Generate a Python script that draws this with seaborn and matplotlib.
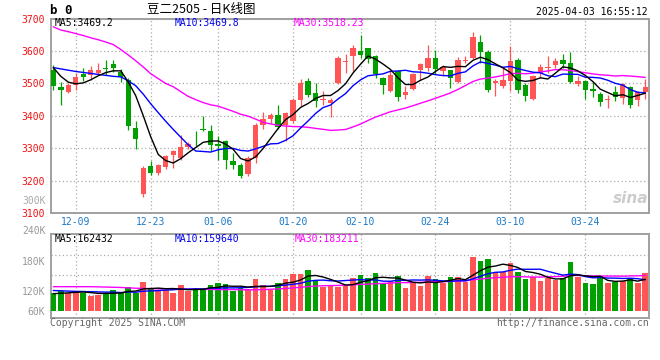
import numpy as np
import pandas as pd
import matplotlib
matplotlib.use("Agg")
import matplotlib.pyplot as plt
import seaborn as sns

# ---------------- data ----------------
holidays = ["2025-01-01", "2025-01-28", "2025-01-29", "2025-01-30",
            "2025-01-31", "2025-02-03", "2025-02-04"]
trade_days = pd.bdate_range("2024-12-04", "2025-04-03")
trade_days = trade_days[~trade_days.isin(pd.to_datetime(holidays))]
dates = trade_days.strftime("%m-%d").tolist()

x_labels = ["12-09", "12-23", "01-06", "01-20", "02-10", "02-24", "03-10", "03-24"]

opens = [3542, 3489, 3473, 3496, 3530, 3526, 3531, 3547, 3559, 3536,
         3510, 3362, 3160, 3246, 3222, 3242, 3279, 3270, 3303, 3329,
         3360, 3352, 3312, 3321, 3261, 3247, 3220, 3270, 3372, 3389,
         3403, 3372, 3385, 3448, 3507, 3470, 3450, 3441, 3500, 3567,
         3585, 3600, 3608, 3585, 3518, 3477, 3539, 3463, 3482, 3542,
         3548, 3578, 3539, 3542, 3506, 3570, 3578, 3629, 3598, 3500,
         3493, 3509, 3574, 3494, 3451, 3532, 3547, 3557, 3574, 3562,
         3499, 3508, 3483, 3467, 3448, 3473, 3456, 3488, 3448, 3473]
highs = [3557, 3503, 3500, 3531, 3549, 3553, 3564, 3571, 3573, 3546,
         3518, 3385, 3245, 3262, 3252, 3279, 3295, 3342, 3318, 3352,
         3400, 3372, 3337, 3326, 3285, 3254, 3276, 3378, 3412, 3410,
         3435, 3413, 3455, 3513, 3516, 3501, 3476, 3455, 3584, 3590,
         3618, 3649, 3610, 3588, 3521, 3542, 3543, 3492, 3532, 3562,
         3618, 3602, 3557, 3543, 3583, 3586, 3659, 3651, 3603, 3515,
         3547, 3616, 3580, 3501, 3526, 3559, 3586, 3580, 3590, 3596,
         3522, 3511, 3504, 3473, 3465, 3492, 3501, 3491, 3478, 3513]
lows = [3481, 3435, 3470, 3480, 3507, 3512, 3530, 3526, 3536, 3505,
        3355, 3299, 3150, 3216, 3218, 3237, 3240, 3265, 3298, 3307,
        3352, 3290, 3265, 3236, 3237, 3207, 3215, 3255, 3358, 3378,
        3358, 3322, 3378, 3430, 3457, 3428, 3432, 3397, 3499, 3532,
        3540, 3579, 3562, 3516, 3467, 3474, 3446, 3453, 3480, 3512,
        3538, 3528, 3523, 3486, 3501, 3562, 3576, 3562, 3473, 3460,
        3486, 3477, 3470, 3445, 3448, 3516, 3532, 3547, 3547, 3501,
        3492, 3453, 3458, 3430, 3423, 3445, 3437, 3424, 3430, 3451]
closes = [3493, 3479, 3496, 3521, 3520, 3541, 3541, 3545, 3548, 3520,
          3370, 3327, 3238, 3222, 3247, 3275, 3290, 3305, 3313, 3327,
          3356, 3309, 3308, 3263, 3248, 3213, 3271, 3372, 3391, 3404,
          3367, 3408, 3450, 3501, 3465, 3445, 3453, 3450, 3578, 3570,
          3611, 3588, 3577, 3530, 3494, 3527, 3459, 3474, 3530, 3559,
          3578, 3544, 3550, 3518, 3574, 3573, 3642, 3598, 3481, 3509,
          3511, 3570, 3481, 3462, 3522, 3552, 3552, 3570, 3560, 3505,
          3508, 3481, 3476, 3442, 3453, 3457, 3498, 3434, 3473, 3488]
volumes = [93000, 102000, 93000, 102000, 93000, 77000, 81000, 93000, 107000, 96000,
           122000, 89000, 148000, 117000, 107000, 107000, 93000, 133000, 102000, 112000,
           112000, 133000, 145000, 138000, 102000, 115000, 110000, 163000, 133000, 107000,
           145000, 163000, 189000, 189000, 210000, 158000, 124000, 127000, 120000, 133000,
           169000, 184000, 169000, 196000, 145000, 153000, 179000, 117000, 141000, 127000,
           179000, 163000, 141000, 174000, 172000, 150000, 279000, 256000, 267000, 201000,
           198000, 248000, 201000, 165000, 174000, 153000, 169000, 158000, 170000, 251000,
           176000, 145000, 138000, 179000, 145000, 150000, 153000, 170000, 145000, 194000]

# first values of the moving-average lines (their history lies left of the chart)
ma5_head = [3549, 3522, 3504, 3499]
ma10_head = [3549, 3545, 3541, 3537, 3534, 3531, 3528, 3525, 3522]
ma30_head = [3675, 3665, 3660, 3654, 3648, 3641, 3635, 3628, 3620, 3605,
             3588, 3570, 3551, 3530, 3515, 3500, 3490, 3475, 3460, 3450,
             3441, 3434, 3430, 3422, 3414, 3405, 3399, 3390, 3380]
vma5_head = [88000, 90000, 92000, 95000]
vma10_head = [104000, 103000, 101000, 100000, 99000, 98000, 97000, 96000, 96000]
vma30_head = [124000, 124000, 124000, 124000, 124000, 124000, 123000, 122000, 121000, 120000,
              118000, 116000, 115000, 114000, 113000, 113000, 112000, 112000, 111000, 111000,
              110000, 110000, 109000, 109000, 109000, 108000, 108000, 108000, 109000]

price_ticks = [3100, 3200, 3300, 3400, 3500, 3600, 3700]

# ---------------- helpers ----------------
def moving_average(values, n, head):
    s = pd.Series(values, dtype=float).rolling(n).mean()
    s.iloc[:n - 1] = head
    return s.to_numpy()

sns.set_theme(style="white")
plt.rcParams["font.family"] = ["DejaVu Sans Mono", "DejaVu Sans"]

RED = "#ff5555"
GREEN = "#00a000"
GRID = "#aaaaaa"
SPINE = "#a0a0a0"
BLUE_TXT = "#1a78c8"

W, H = 660, 360
fig = plt.figure(figsize=(W / 100, H / 100), dpi=100)
fig.patch.set_facecolor("white")

def fx(px):
    return px / W

def fy(py):
    return 1 - py / H

L, R = 50.7, 649.0
ax = fig.add_axes([fx(L), fy(213), fx(R) - fx(L), fy(18.7) - fy(213)])
axv = fig.add_axes([fx(L), fy(318), fx(R) - fx(L), fy(234) - fy(318)])

o = np.array(opens, float)
h = np.array(highs, float)
lo = np.array(lows, float)
c = np.array(closes, float)
v = np.array(volumes, float)
x = np.arange(len(dates))
up = c >= o
cols = np.where(up, RED, GREEN)

df = pd.DataFrame({
    "x": x,
    "ma5": moving_average(closes, 5, ma5_head),
    "ma10": moving_average(closes, 10, ma10_head),
    "ma30": moving_average(closes, 30, ma30_head),
    "vma5": moving_average(volumes, 5, vma5_head),
    "vma10": moving_average(volumes, 10, vma10_head),
    "vma30": moving_average(volumes, 30, vma30_head),
})

# ---------------- price panel ----------------
ax.vlines(x, lo, h, colors=cols, linewidth=0.9, zorder=3)
body_low = np.minimum(o, c)
body_h = np.maximum(np.abs(c - o), 3)
ax.bar(x, body_h, bottom=body_low, width=0.72, color=cols, linewidth=0, zorder=4)

sns.lineplot(data=df, x="x", y="ma30", ax=ax, color="#ff00ff", linewidth=1.0, zorder=5)
sns.lineplot(data=df, x="x", y="ma10", ax=ax, color="#0000ff", linewidth=1.0, zorder=5)
sns.lineplot(data=df, x="x", y="ma5", ax=ax, color="#000000", linewidth=1.0, zorder=6)

ax.set_xlim(-0.35, 79.5)
ax.set_ylim(3100, 3700)
ax.set_yticks(price_ticks, [str(t) for t in price_ticks])
tick_pos = [dates.index(d) for d in x_labels]
ax.set_xticks(tick_pos, x_labels)
ax.tick_params(axis="y", length=0, pad=4, labelsize=7, labelcolor="#ee1111")
ax.tick_params(axis="x", length=0, pad=3, labelsize=7, labelcolor=BLUE_TXT)
ax.grid(True, color=GRID, linestyle=(0, (1, 2)), linewidth=0.9)
ax.set_xlabel("")
ax.set_ylabel("")
for sp in ax.spines.values():
    sp.set_color(SPINE)
    sp.set_linewidth(1.4)

# ---------------- volume panel ----------------
axv.bar(x, v, width=0.75, color=cols, linewidth=0, zorder=3)
sns.lineplot(data=df, x="x", y="vma30", ax=axv, color="#ff00ff", linewidth=1.0, zorder=5)
sns.lineplot(data=df, x="x", y="vma10", ax=axv, color="#0000ff", linewidth=1.0, zorder=5)
sns.lineplot(data=df, x="x", y="vma5", ax=axv, color="#000000", linewidth=1.0, zorder=6)

axv.set_xlim(-0.35, 79.5)
axv.set_ylim(-37700, 396000)
axv.set_xticks(tick_pos, [])
axv.set_yticks([0, 103000, 258000], ["60K", "120K", "180K"])
axv.set_yticks([81000, 184000, 288000], minor=True)
axv.tick_params(axis="both", which="both", length=0)
axv.tick_params(axis="y", pad=4, labelsize=7, labelcolor="#999999")
axv.grid(True, which="minor", axis="y", color=GRID, linestyle=(0, (1, 2)), linewidth=0.9)
axv.grid(True, which="major", axis="x", color=GRID, linestyle=(0, (1, 2)), linewidth=0.9)
axv.grid(False, which="major", axis="y")
axv.set_xlabel("")
axv.set_ylabel("")
for sp in axv.spines.values():
    sp.set_color(SPINE)
    sp.set_linewidth(1.4)

# ---------------- texts ----------------
mono = ["DejaVu Sans Mono", "DejaVu Sans"]
fig.text(fx(46), fy(231), "240K", ha="right", va="center", fontsize=7, color="#999999", family=mono)
fig.text(fx(46), fy(201), "300K", ha="right", va="center", fontsize=7, color="#aaaaaa", family=mono)

fig.text(fx(55), fy(23.5), "MA5:3469.2", ha="left", va="center", fontsize=7, color="black", family=mono)
fig.text(fx(175), fy(23.5), "MA10:3469.8", ha="left", va="center", fontsize=7, color="#0000ee", family=mono)
fig.text(fx(294), fy(23.5), "MA30:3518.23", ha="left", va="center", fontsize=7, color="#ff00ff", family=mono)

fig.text(fx(55), fy(238.5), "MA5:162432", ha="left", va="center", fontsize=7, color="black", family=mono)
fig.text(fx(175), fy(238.5), "MA10:159640", ha="left", va="center", fontsize=7, color="#0000ee", family=mono)
fig.text(fx(295), fy(238.5), "MA30:183211", ha="left", va="center", fontsize=7, color="#ff00ff", family=mono)

fig.text(fx(50), fy(10), "b 0", ha="left", va="center", fontsize=9, weight="bold", color="black", family=mono)
fig.text(fx(201), fy(10), "豆二2505 - 日K线图", ha="center", va="center", fontsize=9,
         color="black", family=["Noto Sans CJK SC", "DejaVu Sans"])
fig.text(fx(648), fy(12), "2025-04-03 16:55:12", ha="right", va="center", fontsize=7, color="black", family=mono)

fig.text(fx(50), fy(323.5), "Copyright 2025 SINA.COM", ha="left", va="center", fontsize=7, color="#666666", family=mono)
fig.text(fx(649), fy(323.5), "http://finance.sina.com.cn", ha="right", va="center", fontsize=7, color="#666666", family=mono)

fig.text(fx(648), fy(198), "sina", ha="right", va="center", fontsize=11, color="#cccccc",
         style="italic", weight="bold", family=["DejaVu Sans"])

fig.savefig("out.png", dpi=100, facecolor="white")
